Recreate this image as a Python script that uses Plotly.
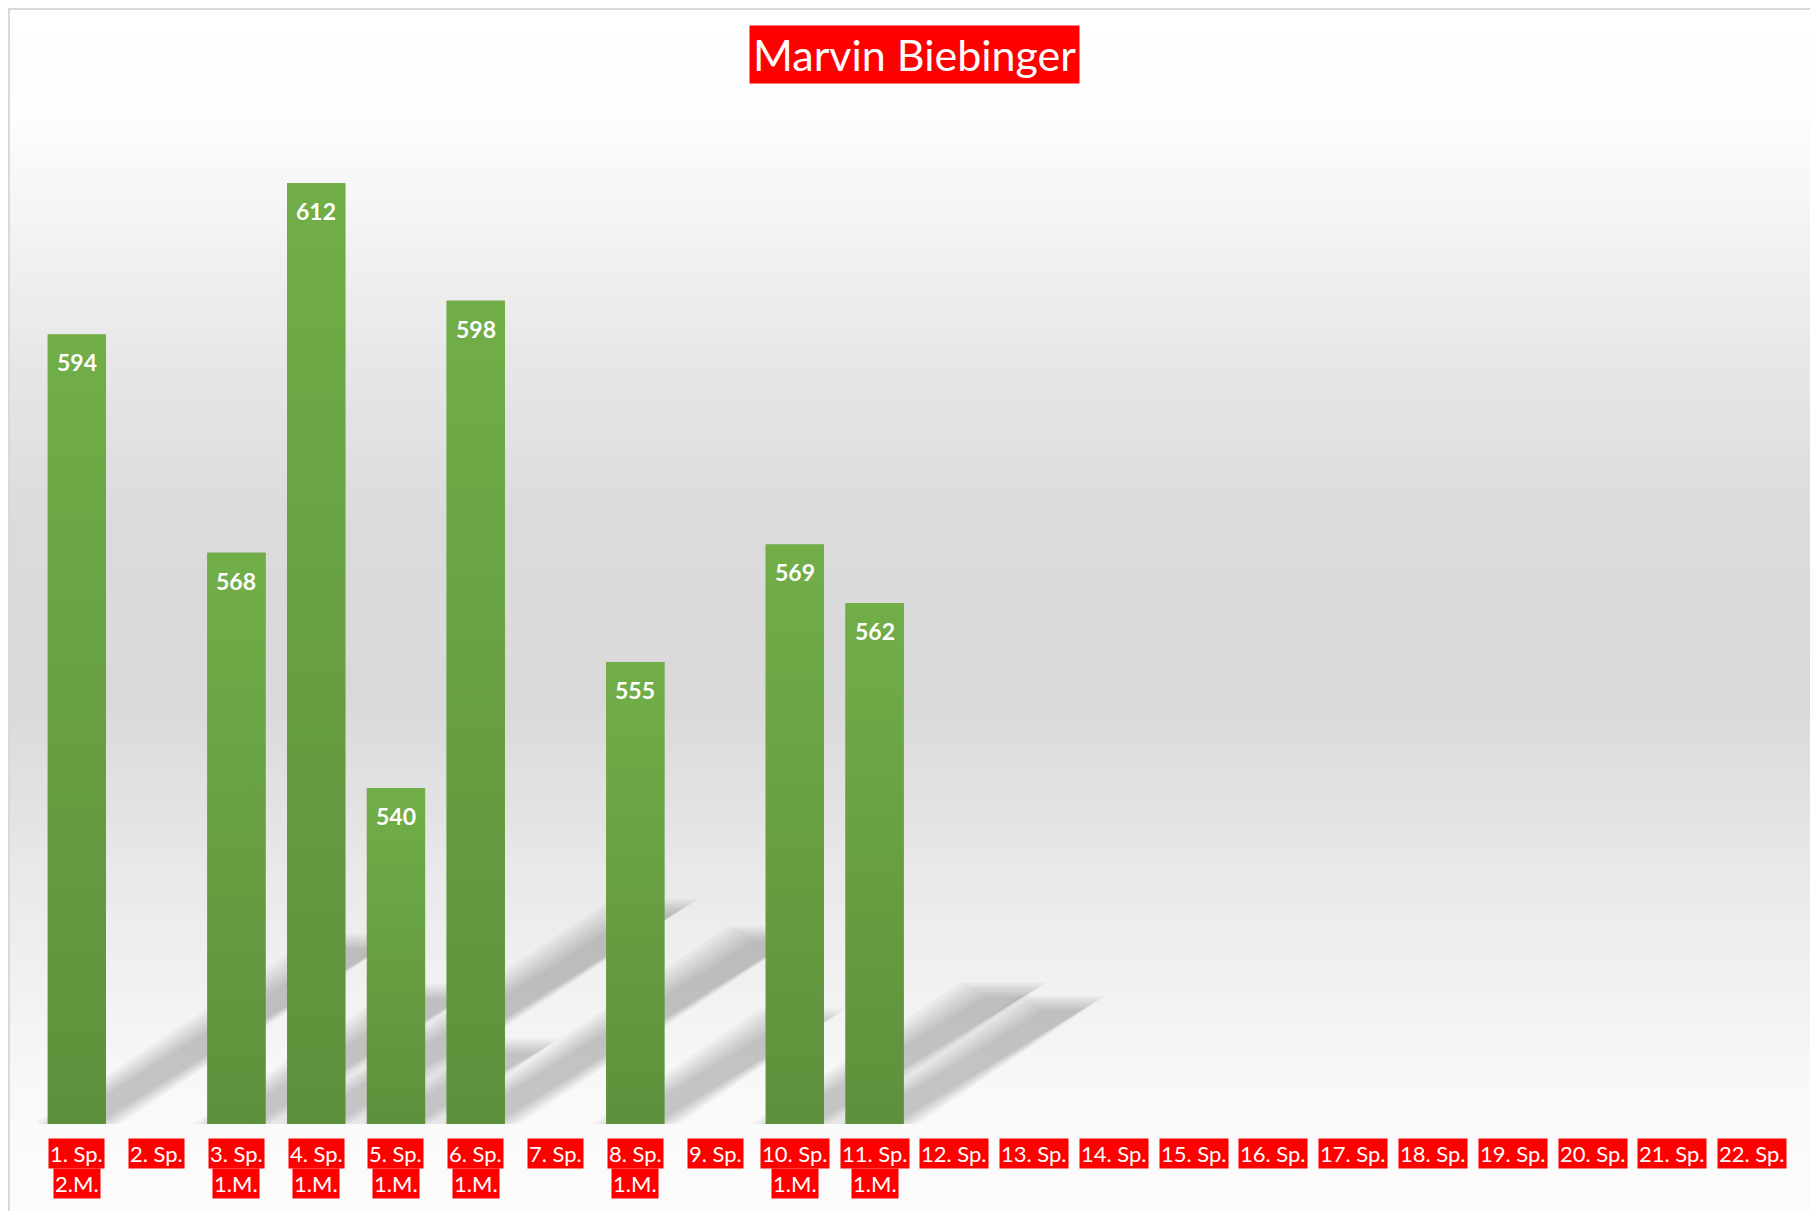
import plotly.graph_objects as go

# Spieltage (categories) and scores; None = not played
spieltag = [f"{i}. Sp." for i in range(1, 23)]
mannschaft = ["2.M.", "", "1.M.", "1.M.", "1.M.", "1.M.", "", "1.M.", "", "1.M.", "1.M.",
              "", "", "", "", "", "", "", "", "", "", ""]
ringe = [594, None, 568, 612, 540, 598, None, 555, None, 569, 562,
         None, None, None, None, None, None, None, None, None, None, None]

Y_MIN, Y_MAX = 500, 620
BAR_W = 0.73

# page has an 8px body margin, so work in window pixels and shift
OFF = 8
W, H = 1810, 1203
ML, MR, MT, MB = 29, 26, 108, 87
pw = W - ML - MR
ph = H - MT - MB


def px_x(x):
    return (x - OFF - ML) / pw


def px_y(y):
    return (H - MB - (y - OFF)) / ph


idx = list(range(len(spieltag)))
fig = go.Figure()
fig.add_trace(go.Bar(x=idx, y=ringe, marker=dict(color="#66a041", line=dict(width=0)),
                     width=BAR_W, customdata=spieltag, hovertemplate="%{customdata}: %{y}<extra></extra>"))

# gradient overlay on every bar (light top, darker bottom)
for i, v in zip(idx, ringe):
    if v is None:
        continue
    x0, x1 = i - BAR_W / 2, i + BAR_W / 2
    fig.add_trace(go.Scatter(x=[x0, x1, x1, x0, x0], y=[Y_MIN, Y_MIN, v, v, Y_MIN],
                             mode="lines", line=dict(width=0), fill="toself",
                             fillgradient=dict(type="vertical",
                                               colorscale=[[0, "#5d903b"], [1, "#71ae48"]]),
                             hoverinfo="skip"))

shapes = []
# background gradient of the chart area (white -> grey -> white)
stops = [(5, 255), (120, 253), (350, 232), (520, 219), (700, 217), (900, 235), (1100, 249), (1211, 252)]
n = 120
for k in range(n):
    y0 = 5 + (1211 - 5) * k / n
    y1 = 5 + (1211 - 5) * (k + 1) / n
    ym = (y0 + y1) / 2
    for (a, ga), (b, gb) in zip(stops[:-1], stops[1:]):
        if a <= ym <= b:
            g = ga + (gb - ga) * (ym - a) / (b - a)
            break
    g = int(round(g))
    shapes.append(dict(type="rect", xref="paper", yref="paper", layer="below",
                       x0=px_x(8), x1=px_x(1830), y0=px_y(y1 + 0.5), y1=px_y(y0),
                       fillcolor=f"rgb({g},{g},{g})", line=dict(width=0)))

# perspective shadows (diagonal, upper right) derived from bar heights
px_unit = ph / (Y_MAX - Y_MIN)
px_cat = pw / len(spieltag)
for i, v in zip(idx, ringe):
    if v is None:
        continue
    h = v - Y_MIN
    dy = 0.23 * h
    dx = 0.36 * h * px_unit / px_cat
    for e in [14, 10, 6, 2, -2, -6, -10]:
        ex = e / px_cat
        ey = e / px_unit * 0.6
        xl, xr = i - BAR_W / 2 - ex, i + BAR_W / 2 + ex
        path = (f"M {xl} {Y_MIN} L {xr} {Y_MIN} L {xr + dx} {Y_MIN + dy + ey} "
                f"L {xl + dx} {Y_MIN + dy + ey} Z")
        shapes.append(dict(type="path", xref="x", yref="y", layer="below", path=path,
                           fillcolor="rgba(0,0,0,0.032)", line=dict(width=0)))

# chart border
shapes.append(dict(type="line", xref="paper", yref="paper", x0=px_x(8), x1=px_x(1830),
                   y0=px_y(9), y1=px_y(9), line=dict(color="#d9d9d9", width=2)))
shapes.append(dict(type="line", xref="paper", yref="paper", x0=px_x(9), x1=px_x(9),
                   y0=px_y(9), y1=px_y(1230), line=dict(color="#d9d9d9", width=2)))

annotations = []
# value labels inside bars
for i, v in zip(idx, ringe):
    if v is not None:
        annotations.append(dict(x=i, y=v, xref="x", yref="y", text=f"<b>{v}</b>", showarrow=False,
                                yanchor="middle", yshift=-28,
                                font=dict(family="Lato", size=23, color="white")))
# category labels with red boxes
for i, s, m in zip(idx, spieltag, mannschaft):
    annotations.append(dict(x=i, y=0, xref="x", yref="paper", text=s, showarrow=False,
                            yanchor="middle", yshift=-29, bgcolor="#ff0000", borderpad=1,
                            font=dict(family="Lato", size=22, color="white")))
    if m:
        annotations.append(dict(x=i, y=0, xref="x", yref="paper", text=m, showarrow=False,
                                yanchor="middle", yshift=-59, bgcolor="#ff0000", borderpad=1,
                                font=dict(family="Lato", size=22, color="white")))
# title
annotations.append(dict(x=px_x(915), y=px_y(54), xref="paper", yref="paper", text="Marvin Biebinger",
                        showarrow=False, xanchor="center", yanchor="middle",
                        bgcolor="#ff0000", borderpad=3,
                        font=dict(family="Lato", size=43, color="white")))

fig.update_layout(
    width=W, height=H,
    margin=dict(l=ML, r=MR, t=MT, b=MB),
    paper_bgcolor="white",
    plot_bgcolor="rgba(0,0,0,0)",
    showlegend=False,
    shapes=shapes,
    annotations=annotations,
    xaxis=dict(range=[-0.5, len(spieltag) - 0.5], showticklabels=False, showgrid=False,
               zeroline=False, showline=False, ticks=""),
    yaxis=dict(range=[Y_MIN, Y_MAX], visible=False, showgrid=False),
)

fig.write_html("out.html")
